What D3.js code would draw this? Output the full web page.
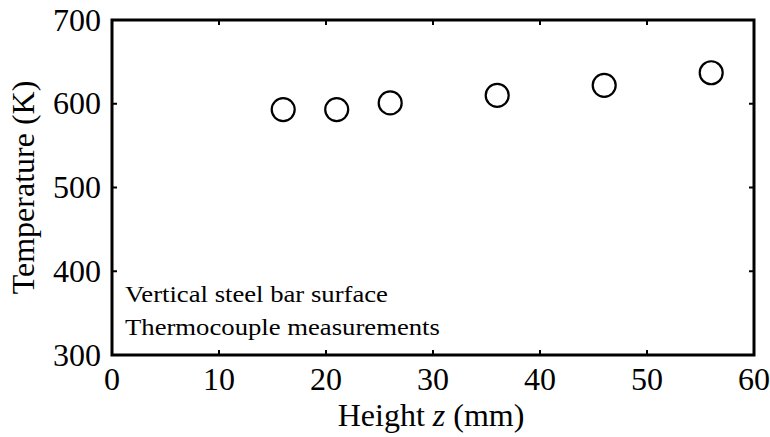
<!DOCTYPE html>
<html><head><meta charset="utf-8">
<script src="https://cdn.jsdelivr.net/npm/d3@7"></script>
<style>body{margin:0;background:#fff}svg{display:block}</style>
</head><body>
<script>
const heights = [16, 21, 26, 36, 46, 56];
const temps = [593, 593, 601, 610, 622, 637];
const xTicks = [0, 10, 20, 30, 40, 50, 60];
const yTicks = [300, 400, 500, 600, 700];
const notes = ["Vertical steel bar surface", "Thermocouple measurements"];

const W = 770, H = 437;
const m = {l: 112, r: 16, t: 20, b: 82};
const FONT = "'Liberation Serif', 'Times New Roman', Times, serif";
const svg = d3.select("body").append("svg").attr("width", W).attr("height", H)
  .attr("font-family", FONT);
const x = d3.scaleLinear().domain([0, 60]).range([m.l, W - m.r]);
const y = d3.scaleLinear().domain([300, 700]).range([H - m.b, m.t]);

const g = svg.append("g");
const tl = 5;
xTicks.slice(1, -1).forEach(v => {
  g.append("line").attr("x1", x(v)).attr("x2", x(v)).attr("y1", y(300)).attr("y2", y(300) - tl).attr("stroke", "#000").attr("stroke-width", 2);
  g.append("line").attr("x1", x(v)).attr("x2", x(v)).attr("y1", y(700)).attr("y2", y(700) + tl).attr("stroke", "#000").attr("stroke-width", 2);
});
yTicks.slice(1, -1).forEach(v => {
  g.append("line").attr("x1", x(0)).attr("x2", x(0) + tl).attr("y1", y(v)).attr("y2", y(v)).attr("stroke", "#000").attr("stroke-width", 2);
  g.append("line").attr("x1", x(60)).attr("x2", x(60) - tl).attr("y1", y(v)).attr("y2", y(v)).attr("stroke", "#000").attr("stroke-width", 2);
});
g.append("rect").attr("x", x(0)).attr("y", y(700)).attr("width", x(60) - x(0)).attr("height", y(300) - y(700))
  .attr("fill", "none").attr("stroke", "#000").attr("stroke-width", 3);

svg.selectAll(".xl").data(xTicks).enter().append("text")
  .attr("x", d => x(d)).attr("y", y(300) + 35).attr("text-anchor", "middle").attr("font-size", 32).text(d => d);
svg.selectAll(".yl").data(yTicks).enter().append("text")
  .attr("x", x(0) - 11).attr("y", d => y(d) + 10.5).attr("text-anchor", "end").attr("font-size", 32).text(d => d);

const xt = svg.append("text").attr("x", (x(0) + x(60)) / 2 - 2).attr("y", 426).attr("text-anchor", "middle").attr("font-size", 32);
xt.append("tspan").text("Height ");
xt.append("tspan").attr("font-style", "italic").text("z");
xt.append("tspan").text(" (mm)");
svg.append("text").attr("transform", `translate(34,${(y(300) + y(700)) / 2}) rotate(-90)`)
  .attr("text-anchor", "middle").attr("font-size", 32).text("Temperature (K)");

svg.selectAll(".note").data(notes).enter().append("text")
  .attr("x", x(0) + 13).attr("y", (d, i) => 302 + i * 33).attr("font-size", 23).text(d => d)
  .each(function() {
    const L = this.getComputedTextLength();
    d3.select(this).attr("textLength", L * 1.16).attr("lengthAdjust", "spacingAndGlyphs");
  });

svg.selectAll("circle.p").data(heights).enter().append("circle").attr("class", "p")
  .attr("cx", d => x(d)).attr("cy", (d, i) => y(temps[i])).attr("r", 11.5)
  .attr("fill", "none").attr("stroke", "#000").attr("stroke-width", 2.2);
</script>
</body></html>
